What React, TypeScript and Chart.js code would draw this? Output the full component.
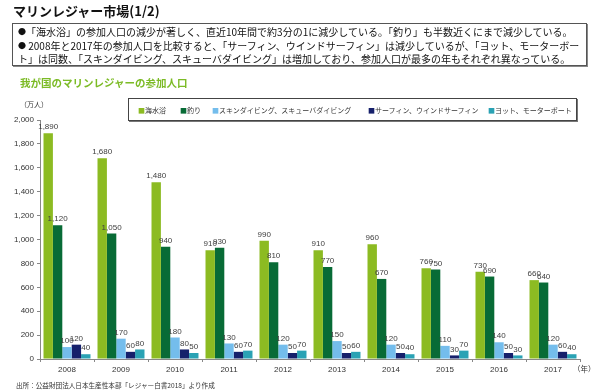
import React, { useEffect, useRef } from "react";
import { Chart, registerables } from "chart.js";

Chart.register(...registerables);

const years = ["2008", "2009", "2010", "2011", "2012", "2013", "2014", "2015", "2016", "2017"];
const seaBathing = [1890, 1680, 1480, 910, 990, 910, 960, 760, 730, 660];
const fishing = [1120, 1050, 940, 930, 810, 770, 670, 750, 690, 640];
const diving = [100, 170, 180, 130, 120, 150, 120, 110, 140, 120];
const surfing = [120, 60, 80, 60, 50, 50, 50, 30, 50, 60];
const yacht = [40, 80, 50, 70, 70, 60, 40, 70, 30, 40];

const seriesNames = [
  "海水浴",
  "釣り",
  "スキンダイビング、スキューバダイビング",
  "サーフィン、ウインドサーフィン",
  "ヨット、モーターボート",
];
const seriesColors = ["#8cbb22", "#086b36", "#74bdec", "#16206b", "#2aa2b4"];
const legendX = [138, 180, 212, 368, 488];

const JP = '"Noto Sans CJK JP", "Noto Sans", sans-serif';
const LAT = '"Liberation Sans", Arial, sans-serif';

const labelPlugin = {
  id: "barLabels",
  afterDatasetsDraw(chart: any) {
    const ctx = chart.ctx;
    ctx.save();
    ctx.font = `8px ${LAT}`;
    ctx.fillStyle = "#404040";
    ctx.textAlign = "center";
    ctx.textBaseline = "bottom";
    chart.data.datasets.forEach((ds: any, i: number) => {
      const meta = chart.getDatasetMeta(i);
      meta.data.forEach((bar: any, j: number) => {
        const v = ds.data[j];
        ctx.fillText(v.toLocaleString("en-US"), bar.x, bar.y - 2);
      });
    });
    ctx.restore();
  },
};

export default function App() {
  const ref = useRef<HTMLCanvasElement>(null);
  useEffect(() => {
    const data = [seaBathing, fishing, diving, surfing, yacht];
    const chart = new Chart(ref.current as HTMLCanvasElement, {
      type: "bar",
      data: {
        labels: years,
        datasets: data.map((d, i) => ({
          label: seriesNames[i],
          data: d,
          backgroundColor: seriesColors[i],
          barPercentage: 1,
          categoryPercentage: 0.87,
        })),
      },
      options: {
        animation: false,
        responsive: false,
        maintainAspectRatio: false,
        layout: { padding: { top: 120, right: 20, bottom: 0, left: 0 } },
        plugins: { legend: { display: false }, tooltip: { enabled: false } },
        scales: {
          x: {
            grid: { drawOnChartArea: false, drawTicks: true, tickLength: 3, color: "#888", offset: true },
            border: { display: true, color: "#888" },
            ticks: { color: "#333", font: { family: LAT, size: 8 }, padding: 3, maxRotation: 0 },
            afterFit: (s: any) => {
              s.height = 33;
            },
          },
          y: {
            min: 0,
            max: 2000,
            grid: { drawOnChartArea: false, drawTicks: true, tickLength: 3, color: "#888" },
            border: { display: true, color: "#888" },
            ticks: {
              stepSize: 200,
              color: "#333",
              font: { family: LAT, size: 8 },
              padding: 3,
              callback: (v: any) => Number(v).toLocaleString("en-US"),
            },
            afterFit: (s: any) => {
              s.width = 40;
            },
          },
        },
      },
      plugins: [labelPlugin],
    });
    return () => chart.destroy();
  }, []);

  const abs = (x: number, y: number, extra: any = {}) => ({
    position: "absolute" as const,
    left: x,
    top: y,
    whiteSpace: "nowrap" as const,
    ...extra,
  });

  const bullet = <span style={{ fontSize: 8, verticalAlign: "1px" }}>●</span>;

  return (
    <div style={{ position: "fixed", left: 0, top: 0, width: 600, height: 392, background: "#fff", overflow: "hidden" }}>
      <canvas ref={ref} width={600} height={392} style={{ position: "absolute", left: 0, top: 0, width: 600, height: 392 }} />
      <div style={abs(13, 3, { fontFamily: JP, fontWeight: 700, fontSize: 13, color: "#111", lineHeight: "16px" })}>
        マリンレジャー市場(1/2)
      </div>
      <div
        style={abs(12, 23, {
          width: 575,
          height: 43,
          border: "1px solid #555",
          boxShadow: "1px 1px 0 #888",
          fontFamily: JP,
          fontSize: 10,
          color: "#111",
          lineHeight: "13.5px",
          padding: "1px 0 0 5px",
          boxSizing: "border-box",
        })}
      >
        <div>{bullet}「海水浴」の参加人口の減少が著しく、直近10年間で約3分の1に減少している。「釣り」も半数近くにまで減少している。</div>
        <div>{bullet} 2008年と2017年の参加人口を比較すると、「サーフィン、ウインドサーフィン」は減少しているが、「ヨット、モーターボー</div>
        <div>ト」は同数、「スキンダイビング、スキューバダイビング」は増加しており、参加人口が最多の年もそれぞれ異なっている。</div>
      </div>
      <div style={abs(20, 76, { fontFamily: JP, fontWeight: 700, fontSize: 10.5, color: "#7cbb26", lineHeight: "14px" })}>
        我が国のマリンレジャーの参加人口
      </div>
      <div style={abs(20, 99, { fontFamily: JP, fontSize: 7, color: "#333", lineHeight: "10px" })}>（万人）</div>
      <div
        style={abs(128, 98, {
          width: 449,
          height: 23,
          border: "1px solid #444",
          boxShadow: "1px 1px 0 #777",
          boxSizing: "border-box",
          background: "#fff",
        })}
      />
      {seriesNames.map((n, i) => (
        <div key={n} style={abs(legendX[i], 105, { fontFamily: JP, fontSize: 7, color: "#333", lineHeight: "10px" })}>
          <span style={{ color: seriesColors[i] }}>■</span>
          {n}
        </div>
      ))}
      <div style={abs(573, 364, { fontFamily: JP, fontSize: 7.5, color: "#333", lineHeight: "10px" })}>（年）</div>
      <div style={abs(16, 380, { fontFamily: JP, fontSize: 6.6, color: "#333", lineHeight: "10px" })}>
        出所：公益財団法人日本生産性本部「レジャー白書2018」より作成
      </div>
    </div>
  );
}
